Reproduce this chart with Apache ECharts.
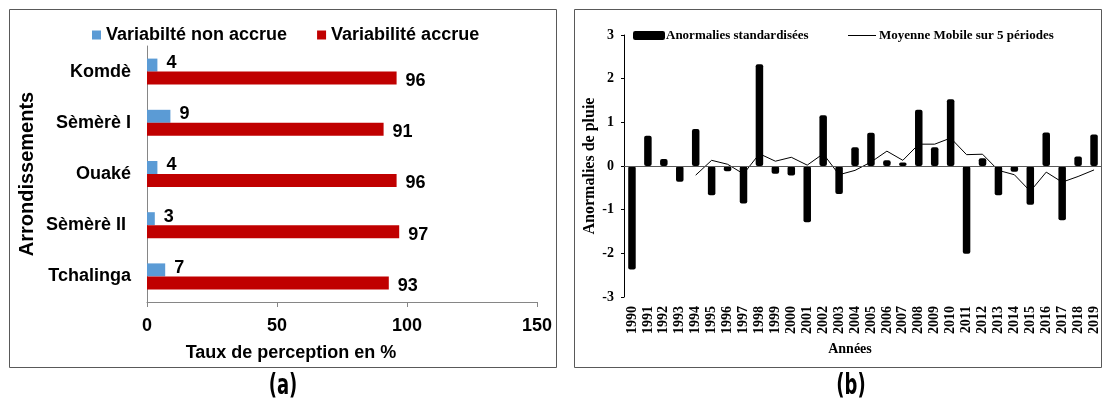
<!DOCTYPE html>
<html>
<head>
<meta charset="utf-8">
<script src="https://cdn.jsdelivr.net/npm/echarts@6/dist/echarts.min.js"></script>
<style>
  html, body { margin: 0; padding: 0; background: #fff; }
  #chart { width: 1106px; height: 406px; }
</style>
</head>
<body>
<div id="chart"></div>
<script>
// Panel (a): perception of rainfall variability by district
const districts = ['Komdè', 'Sèmèrè I', 'Ouaké', 'Sèmèrè II ', 'Tchalinga'];
const nonAccrue = [4, 9, 4, 3, 7];
const accrue = [96, 91, 96, 97, 93];
const percentTicks = [0, 50, 100, 150];

// Panel (b): standardised rainfall anomalies, 1990-2019
const years = ['1990','1991','1992','1993','1994','1995','1996','1997','1998','1999',
               '2000','2001','2002','2003','2004','2005','2006','2007','2008','2009',
               '2010','2011','2012','2013','2014','2015','2016','2017','2018','2019'];
const anomalies = [-2.37, 0.69, 0.16, -0.36, 0.85, -0.67, -0.12, -0.86, 2.33, -0.18,
                   -0.22, -1.29, 1.16, -0.64, 0.43, 0.76, 0.13, 0.08, 1.29, 0.43,
                   1.53, -2.01, 0.18, -0.67, -0.13, -0.89, 0.77, -1.24, 0.22, 0.72];
const movingAvg = [null, null, null, null, -0.21, 0.13, 0.04, -0.18, 0.28, 0.11,
                   0.2, 0.02, 0.28, -0.2, -0.1, 0.09, 0.34, 0.13, 0.5, 0.5,
                   0.64, 0.26, 0.27, -0.1, -0.2, -0.58, -0.14, -0.37, -0.24, -0.09];
const anomalyTicks = [-3, -2, -1, 0, 1, 2, 3];

const SANS = '"Liberation Sans", Arial, sans-serif';
const SERIF = '"Liberation Serif", "Times New Roman", serif';
const PANEL = '"DejaVu Sans", sans-serif';

const chart = echarts.init(document.getElementById('chart'), null, { renderer: 'canvas' });

const option = {
  animation: false,
  backgroundColor: '#ffffff',
  legend: [
    {
      left: 87, top: 21,
      data: ['Variabilté non accrue', 'Variabilité accrue'],
      icon: 'rect', itemWidth: 9, itemHeight: 9, itemGap: 30,
      textStyle: { fontFamily: SANS, fontWeight: 'bold', fontSize: 18, color: '#000' }
    },
    {
      left: 628, top: 24,
      data: ['Anormalies standardisées'],
      icon: 'roundRect', itemWidth: 32, itemHeight: 9, itemGap: 0,
      textStyle: { fontFamily: SERIF, fontWeight: 'bold', fontSize: 13, color: '#000', padding: [0, 0, 0, -4] }
    },
    {
      left: 843, top: 24,
      data: ['Moyenne Mobile sur 5 périodes'],
      icon: 'rect', itemWidth: 28, itemHeight: 1,
      textStyle: { fontFamily: SERIF, fontWeight: 'bold', fontSize: 13, color: '#000', padding: [0, 0, 0, -2] }
    }
  ],
  grid: [
    { left: 147, right: 569, top: 46, bottom: 104 },
    { left: 624, right: 4, top: 35, bottom: 109 }
  ],
  xAxis: [
    {
      gridIndex: 0, type: 'value', min: percentTicks[0], max: percentTicks[percentTicks.length - 1], interval: 50,
      axisLine: { show: true, lineStyle: { color: '#868686', width: 1 } },
      axisTick: { show: true, length: 5, lineStyle: { color: '#868686' } },
      splitLine: { show: false },
      axisLabel: { margin: 15, fontFamily: SANS, fontWeight: 'bold', fontSize: 18, color: '#000' }
    },
    {
      gridIndex: 1, type: 'category', data: years, boundaryGap: true,
      axisLine: { show: false },
      axisTick: { show: false },
      axisLabel: { interval: 0, rotate: 90, margin: 9, fontFamily: SERIF, fontWeight: 'bold', fontSize: 14, color: '#000' }
    }
  ],
  yAxis: [
    {
      gridIndex: 0, type: 'category', data: districts, inverse: true,
      axisLine: { show: true, lineStyle: { color: '#868686', width: 1 } },
      axisTick: { show: false },
      axisLabel: { margin: 16, fontFamily: SANS, fontWeight: 'bold', fontSize: 18, color: '#000' },
      name: 'Arrondissements', nameLocation: 'middle', nameGap: 110,
      nameTextStyle: { fontFamily: SANS, fontWeight: 'bold', fontSize: 20, color: '#000' }
    },
    {
      gridIndex: 1, type: 'value', min: anomalyTicks[0], max: anomalyTicks[anomalyTicks.length - 1], interval: 1,
      axisLine: { show: true, lineStyle: { color: '#000', width: 1 } },
      axisTick: { show: true, length: 3, lineStyle: { color: '#000' } },
      splitLine: { show: false },
      axisLabel: { margin: 10, fontFamily: SERIF, fontWeight: 'bold', fontSize: 14, color: '#000' },
      name: 'Anormalies de pluie', nameLocation: 'middle', nameGap: 26,
      nameTextStyle: { fontFamily: SERIF, fontWeight: 'bold', fontSize: 16, color: '#000' }
    }
  ],
  series: [
    {
      name: 'Variabilté non accrue', type: 'bar', xAxisIndex: 0, yAxisIndex: 0,
      data: nonAccrue, barWidth: 13, barGap: '0%',
      itemStyle: { color: '#5B9BD5' },
      label: { show: true, position: 'right', distance: 9, offset: [0, -2],
               fontFamily: SANS, fontWeight: 'bold', fontSize: 18, color: '#000' }
    },
    {
      name: 'Variabilité accrue', type: 'bar', xAxisIndex: 0, yAxisIndex: 0,
      data: accrue, barWidth: 13, barGap: '0%',
      itemStyle: { color: '#C00000' },
      label: { show: true, position: 'right', distance: 9, offset: [0, 3],
               fontFamily: SANS, fontWeight: 'bold', fontSize: 18, color: '#000' }
    },
    {
      name: 'Anormalies standardisées', type: 'bar', xAxisIndex: 1, yAxisIndex: 1,
      data: anomalies, barWidth: 7.5,
      itemStyle: { color: '#000', borderRadius: 2 },
      markLine: {
        silent: true, symbol: 'none', label: { show: false },
        lineStyle: { color: '#595959', type: 'solid', width: 1 },
        data: [{ yAxis: 0 }]
      }
    },
    {
      name: 'Moyenne Mobile sur 5 périodes', type: 'line', xAxisIndex: 1, yAxisIndex: 1,
      data: movingAvg, symbol: 'none', connectNulls: false,
      lineStyle: { color: '#000', width: 1 }, itemStyle: { color: '#000' }
    }
  ],
  graphic: [
    { type: 'rect', shape: { x: 9.5, y: 9.5, width: 547, height: 358 },
      style: { fill: null, stroke: '#595959', lineWidth: 1 }, z: -1 },
    { type: 'rect', shape: { x: 574.5, y: 9.5, width: 527, height: 358 },
      style: { fill: null, stroke: '#595959', lineWidth: 1 }, z: -1 },
    { type: 'text', x: 291, y: 353,
      style: { text: 'Taux de perception en %', fontFamily: SANS, fontWeight: 'bold', fontSize: 18,
               fill: '#000', align: 'center', verticalAlign: 'middle' } },
    { type: 'text', x: 850, y: 349,
      style: { text: 'Années', fontFamily: SERIF, fontWeight: 'bold', fontSize: 14,
               fill: '#000', align: 'center', verticalAlign: 'middle' } },
    // panel letters, drawn in a condensed face
    { type: 'text', x: 283, y: 386, scaleX: 0.62,
      style: { text: '(a)', fontFamily: PANEL, fontWeight: 'bold', fontSize: 29,
               fill: '#000', align: 'center', verticalAlign: 'middle' } },
    { type: 'text', x: 851, y: 386, scaleX: 0.62,
      style: { text: '(b)', fontFamily: PANEL, fontWeight: 'bold', fontSize: 29,
               fill: '#000', align: 'center', verticalAlign: 'middle' } }
  ]
};

chart.setOption(option);
</script>
</body>
</html>
